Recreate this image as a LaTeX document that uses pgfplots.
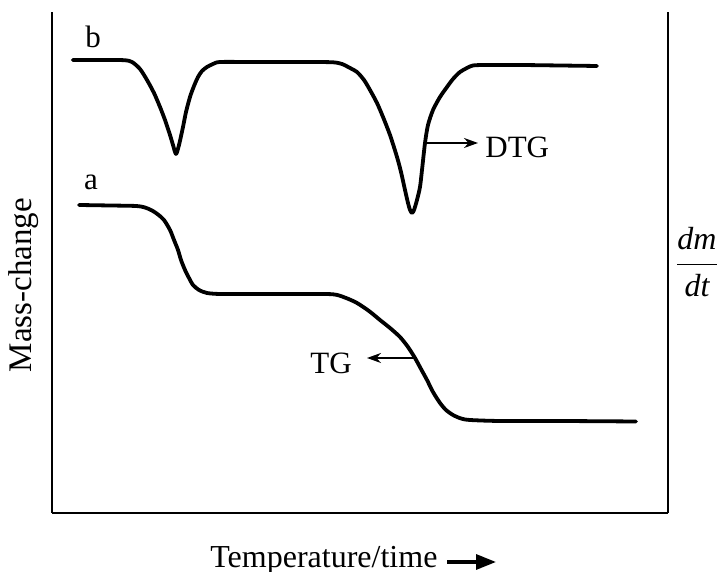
\documentclass[border=0pt]{standalone}
\usepackage{fontspec}
\setmainfont{Liberation Serif}
\usepackage{pgfplots}
\pgfplotsset{compat=1.18}
\usetikzlibrary{arrows.meta}
\begin{document}
\begin{tikzpicture}
\begin{axis}[
  scale only axis, width=308pt, height=250.5pt,
  xmin=52, xmax=668, ymin=-513, ymax=-12,
  axis x line*=bottom, axis y line*=box,
  axis line style={line width=1.2pt, black},
  xtick=\empty, ytick=\empty,
  clip=false,
]
% DTG curve (b)
\addplot[black, line width=1.9pt, smooth, tension=0.45, line join=round, line cap=round] coordinates {
(72.7,-60) (100,-60) (124,-60.2) (132,-62) (140,-69) (147,-80) (154,-93) (160,-107) (165,-120)
(170,-135) (173,-145) (176,-154) (179,-145) (183,-127) (186,-112) (190,-97) (194,-86)
(198,-77) (202,-71) (207,-67) (213,-64) (220,-62) (250,-62) (280,-62) (310,-62)
(333,-62.3) (342,-64) (350,-68) (357,-72) (364,-80) (370,-90) (377,-103) (383,-117) (390,-135)
(397,-157) (401,-172) (405,-190) (408,-203) (410,-210) (412,-213) (414,-210) (417,-200)
(420,-187) (422,-170) (425,-143) (428,-125) (433,-110) (440,-97) (447,-87) (453,-79)
(460,-72) (467,-68) (473,-65.5) (485,-65) (520,-65) (560,-65.5) (597,-66)
};
% TG curve (a)
\addplot[black, line width=1.9pt, smooth, tension=0.45, line join=round, line cap=round] coordinates {
(79,-205) (110,-205.5) (136,-206) (145,-207.5) (152,-210.5) (158,-214.5) (164,-220) (170,-230) (174,-240)
(178,-250) (181,-260) (185,-270) (189,-278) (193,-285) (199,-290) (207,-293) (220,-294)
(250,-294) (300,-294) (333,-294.3) (346,-298) (357,-303) (369,-311) (380,-320) (390,-328)
(400,-337) (408,-347) (415,-358) (421,-369) (427,-380) (433,-392) (440,-403) (446,-410)
(453,-415) (461,-418.5) (470,-420) (500,-421) (560,-421) (636,-421.5)
};
\node[font=\fontsize{15.5}{18}\selectfont] at (axis cs:93,-37) {b};
\node[font=\fontsize{15.5}{18}\selectfont] at (axis cs:91,-182) {a};
\draw[line width=1pt, -{Stealth[length=7pt,width=5pt]}] (axis cs:427,-143) -- (axis cs:478,-143);
\node[font=\fontsize{15.5}{18}\selectfont, anchor=west, inner sep=0pt] at (axis cs:485,-147) {DTG};
\draw[line width=1pt, -{Stealth[length=7pt,width=5pt]}] (axis cs:415,-358) -- (axis cs:367,-358);
\node[font=\fontsize{15.5}{18}\selectfont] at (axis cs:331,-363) {TG};
\node[rotate=90, font=\fontsize{16.5}{19}\selectfont] at (axis cs:24,-285) {Mass-change};
\node[font=\fontsize{16}{19}\selectfont, anchor=base west, inner sep=0pt] at (axis cs:210,-568) {Temperature/time};
\draw[line width=1.6pt, -{Triangle[length=10pt,width=7.5pt]}] (axis cs:447,-562) -- (axis cs:496,-562);
\node[font=\fontsize{16}{19}\selectfont] at (axis cs:697,-262) {$\displaystyle\frac{\textit{dm}}{\textit{dt}}$};
\coordinate (tl) at (axis cs:0,0);
\coordinate (br) at (axis cs:718,-572);
\end{axis}
\pgfresetboundingbox
\path (tl) rectangle (br);
\end{tikzpicture}
\end{document}
